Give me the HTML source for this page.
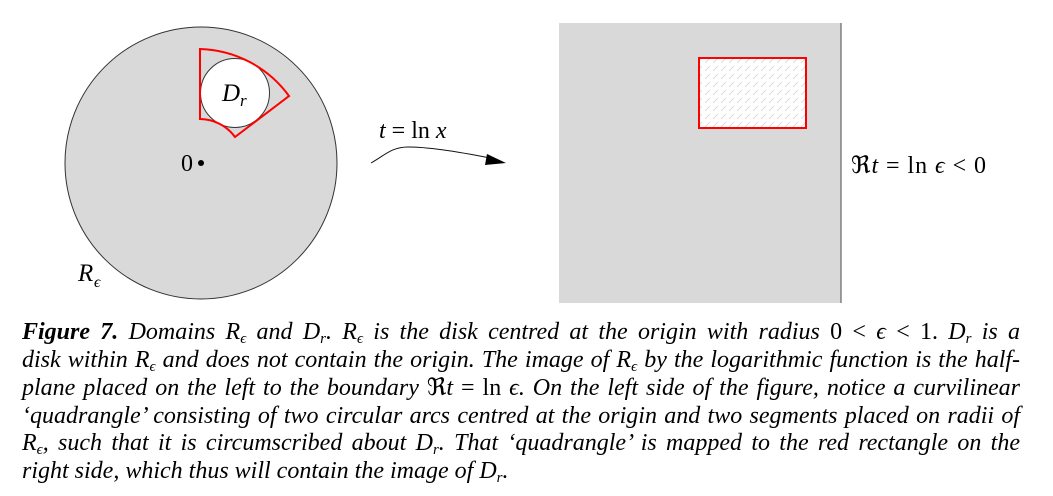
<!DOCTYPE html>
<html><head><meta charset="utf-8"><style>
html,body{margin:0;padding:0;background:#fff;width:1053px;height:496px;overflow:hidden;position:relative;font-family:"Liberation Serif",serif;}
.l{position:absolute;left:22px;width:998px;height:28px;line-height:28px;font-size:24px;font-style:italic;text-align:justify;text-align-last:justify;white-space:nowrap;}
.l.last{text-align-last:left;}
sub{font-size:15px;vertical-align:-4px;line-height:0;}
.up{font-style:normal;}
</style></head><body>
<svg width="1053" height="310" style="position:absolute;left:0;top:0" xmlns="http://www.w3.org/2000/svg">
<defs><pattern id="h" width="8" height="8" patternUnits="userSpaceOnUse"><line x1="1" y1="7" x2="6" y2="2" stroke="#d4d4d4" stroke-width="0.8"/></pattern></defs>
<circle cx="201" cy="163" r="136" fill="#d9d9d9" stroke="#333" stroke-width="1"/>
<circle cx="235" cy="93" r="34.5" fill="#fff" stroke="#333" stroke-width="1"/>
<path d="M200,49 A114,114 0 0 1 289,96 L235,137 A44,44 0 0 0 200,119 Z" fill="none" stroke="#f00" stroke-width="2"/>
<circle cx="201" cy="163" r="3" fill="#000"/>
<text x="181" y="171" font-family="Liberation Serif" font-size="24">0</text>
<text x="222" y="101" font-family="Liberation Serif" font-size="25" font-style="italic">D</text>
<text x="240" y="106" font-family="Liberation Serif" font-size="17" font-style="italic">r</text>
<text x="78" y="281" font-family="Liberation Serif" font-size="25" font-style="italic">R</text>
<text x="94" y="287" font-family="Liberation Serif" font-size="16" font-style="italic">ϵ</text>
<path d="M371,163 C385,155 392,147 408,147 C430,147 460,152 490,158" fill="none" stroke="#111" stroke-width="1"/>
<path d="M506,163 L487,154 L485,165 Z" fill="#000"/>
<text x="379" y="138" font-family="Liberation Serif" font-size="24"><tspan font-style="italic">t</tspan> = ln <tspan font-style="italic">x</tspan></text>
<rect x="559" y="23" width="282" height="280" fill="#d9d9d9"/>
<line x1="841" y1="23" x2="841" y2="303" stroke="#666" stroke-width="1.2"/>
<rect x="699" y="58" width="107" height="70" fill="#fff"/>
<rect x="699" y="58" width="107" height="70" fill="url(#h)" stroke="#f00" stroke-width="2"/>
<text x="851" y="173" font-family="Liberation Serif" font-size="24" textLength="135">ℜ<tspan font-style="italic">t</tspan> = ln <tspan font-style="italic">ϵ</tspan> &lt; 0</text>
</svg>
<div class="l" style="top:318px"><b>Figure 7.</b> Domains <i>R</i><sub>ϵ</sub> and <i>D</i><sub>r</sub>. <i>R</i><sub>ϵ</sub> is the disk centred at the origin with radius <span class="up">0 &lt;</span> ϵ <span class="up">&lt; 1.</span> <i>D</i><sub>r</sub> is a</div>
<div class="l" style="top:346px">disk within <i>R</i><sub>ϵ</sub> and does not contain the origin. The image of <i>R</i><sub>ϵ</sub> by the logarithmic function is the half-</div>
<div class="l" style="top:374px">plane placed on the left to the boundary <span class="up">ℜ</span>t <span class="up">= ln</span> ϵ. On the left side of the figure, notice a curvilinear</div>
<div class="l" style="top:402px">‘quadrangle’ consisting of two circular arcs centred at the origin and two segments placed on radii of</div>
<div class="l" style="top:429px"><i>R</i><sub>ϵ</sub>, such that it is circumscribed about <i>D</i><sub>r</sub>. That ‘quadrangle’ is mapped to the red rectangle on the</div>
<div class="l last" style="top:457px">right side, which thus will contain the image of <i>D</i><sub>r</sub>.</div>
</body></html>
